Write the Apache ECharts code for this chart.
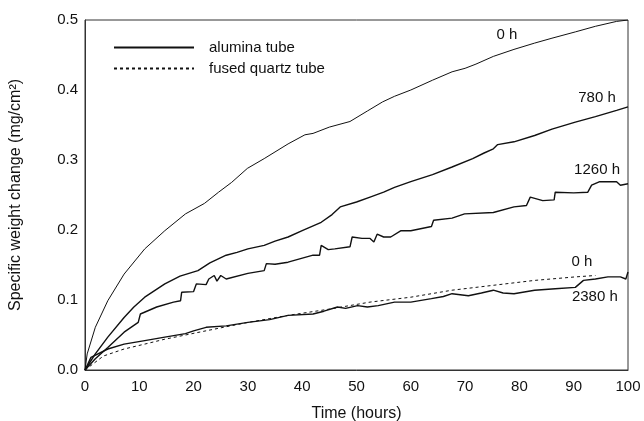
<!DOCTYPE html>
<html>
<head>
<meta charset="utf-8">
<script src="https://cdn.jsdelivr.net/npm/echarts@6/dist/echarts.min.js"></script>
<style>
  html, body { margin: 0; padding: 0; background: #fff; }
  #chart { width: 644px; height: 421px; }
</style>
</head>
<body>
<div id="chart"></div>
<script>
// hours / weight change (mg/cm2)
var alumina0h = [[0,0],[0.4,0.023],[1.9,0.061],[4.2,0.099],[7.2,0.137],[11,0.173],[14.7,0.199],[18.5,0.223],
  [22,0.238],[24.6,0.254],[27,0.268],[29.9,0.288],[33,0.302],[37.4,0.323],[40.5,0.336],[42,0.338],[45,0.347],
  [48.8,0.355],[52,0.37],[54.8,0.383],[57,0.391],[60,0.40],[64,0.414],[67.6,0.426],[70,0.431],[72,0.437],
  [75.2,0.448],[79,0.458],[82.8,0.467],[86,0.474],[90.3,0.483],[94,0.491],[97.9,0.498],[100,0.50]];

var alumina780h = [[0,0],[1.9,0.023],[4.2,0.047],[7.2,0.075],[9,0.09],[11,0.104],[14.7,0.123],[17.5,0.134],
  [20.8,0.142],[23,0.153],[26,0.164],[28,0.168],[30,0.173],[33,0.178],[35,0.184],[37.4,0.19],[40,0.199],
  [43.5,0.211],[45.5,0.222],[47,0.233],[50,0.24],[52.5,0.247],[55,0.254],[57,0.261],[60,0.269],[64,0.279],
  [67.6,0.29],[71.4,0.302],[73.5,0.31],[75.2,0.316],[76,0.322],[79,0.326],[82.8,0.335],[86,0.344],
  [90.3,0.354],[94,0.362],[97.9,0.371],[100,0.376]];

var alumina1260h = [[0,0],[1.9,0.016],[4.2,0.032],[7.2,0.054],[9.8,0.068],[10.2,0.08],[13.2,0.09],[16.3,0.097],
  [17.6,0.099],[17.8,0.111],[20,0.112],[20.5,0.123],[22.3,0.122],[22.8,0.13],[23.8,0.135],[24.3,0.127],
  [25,0.135],[26,0.13],[30,0.138],[33,0.142],[33.4,0.152],[35,0.151],[37.4,0.154],[42,0.164],[43.2,0.164],
  [43.5,0.178],[44.8,0.172],[46,0.173],[48.8,0.176],[49.2,0.19],[51,0.188],[52.5,0.188],[53.2,0.183],
  [53.8,0.194],[55,0.19],[56.3,0.19],[58.2,0.199],[60,0.199],[63.8,0.205],[64.2,0.214],[67.6,0.217],
  [69.9,0.223],[75.2,0.225],[79,0.233],[81.3,0.235],[82,0.247],[84.3,0.242],[86.4,0.243],[86.6,0.254],
  [90,0.253],[92.6,0.254],[93.3,0.264],[94.8,0.269],[97.9,0.269],[98.6,0.264],[100,0.266]];

var alumina2380h = [[0,0],[1.1,0.018],[4.2,0.03],[7.2,0.037],[11,0.042],[14.7,0.047],[18.5,0.052],[20,0.056],
  [22.3,0.061],[26,0.063],[30,0.068],[34,0.072],[37.4,0.078],[42,0.08],[44,0.084],[46.5,0.09],[48,0.088],
  [50.2,0.092],[52,0.09],[54,0.092],[57,0.097],[60,0.097],[63.8,0.102],[66,0.105],[67.6,0.109],[70.6,0.106],
  [73,0.11],[75.2,0.114],[77,0.11],[79,0.109],[82.8,0.114],[86.6,0.116],[90.3,0.118],[91.8,0.128],
  [94,0.13],[96.3,0.133],[98.6,0.133],[99.6,0.13],[100,0.14]];

var quartz0h = [[0,0],[3.4,0.02],[7.2,0.03],[11,0.037],[14.7,0.044],[22.3,0.056],[30,0.068],[37.4,0.078],
  [45,0.087],[52.5,0.097],[60,0.104],[67.6,0.114],[75.2,0.121],[82.8,0.128],[90.3,0.133],[94,0.135]];

var seriesNames = ['alumina tube', 'fused quartz tube'];
var curveLabels = ['0 h', '780 h', '1260 h', '0 h', '2380 h'];
// where each curve label sits, in data units
var labelAt = [[77.7,0.479],[94.3,0.389],[94.3,0.286],[91.5,0.154],[93.9,0.104]];

var font = 'Liberation Sans';

function tag(i){
  return {
    symbol: 'rect', symbolSize: 1,
    itemStyle: { color: 'rgba(0,0,0,0)' },
    label: { show: true, position: 'inside', formatter: curveLabels[i], color: '#111', fontSize: 15, fontFamily: font },
    data: [{ coord: labelAt[i] }]
  };
}

function mkLine(name, data, width, type, i){
  return {
    name: name, type: 'line', data: data, showSymbol: false, symbol: 'none',
    lineStyle: { color: '#111', width: width, type: type },
    itemStyle: { color: '#111' },
    markPoint: tag(i),
    animation: false, silent: true
  };
}

var series = [
  mkLine(seriesNames[0], alumina0h, 1, 'solid', 0),
  mkLine(seriesNames[0], alumina780h, 1.4, 'solid', 1),
  mkLine(seriesNames[0], alumina1260h, 1.4, 'solid', 2),
  mkLine(seriesNames[1], quartz0h, 1, [3,3], 3),
  mkLine(seriesNames[0], alumina2380h, 1.4, 'solid', 4)
];

var chart = echarts.init(document.getElementById('chart'), null, { renderer: 'canvas' });
var option = {
  backgroundColor: '#fff',
  animation: false,
  grid: { left: 85, right: 16, top: 20, bottom: 51, show: true, borderColor: '#333', borderWidth: 1,
          containLabel: false, outerBoundsMode: 'none' },
  legend: {
    data: seriesNames, left: 108, top: 35, orient: 'vertical', itemWidth: 80, itemHeight: 14, itemGap: 6,
    itemStyle: { opacity: 0 },
    textStyle: { fontFamily: font, fontSize: 15, color: '#111', padding: [0,0,0,10] },
    selectedMode: false
  },
  xAxis: {
    type: 'value', min: 0, max: 100, interval: 10,
    name: 'Time (hours)', nameLocation: 'middle', nameGap: 36,
    nameTextStyle: { fontFamily: font, fontSize: 16, color: '#111' },
    axisLine: { lineStyle: { color: '#333' } }, axisTick: { show: false },
    axisLabel: { fontFamily: font, fontSize: 15, color: '#111', margin: 9 },
    splitLine: { show: false }
  },
  yAxis: {
    type: 'value', min: 0, max: 0.5, interval: 0.1,
    name: 'Specific weight change (mg/cm²)', nameLocation: 'middle', nameGap: 61,
    nameTextStyle: { fontFamily: font, fontSize: 16, color: '#111' },
    axisLine: { show: true, lineStyle: { color: '#333' } }, axisTick: { show: false },
    axisLabel: { fontFamily: font, fontSize: 15, color: '#111', margin: 7, formatter: function(v){ return v.toFixed(1); } },
    splitLine: { show: false }
  },
  series: series
};
chart.setOption(option);
</script>
</body>
</html>
